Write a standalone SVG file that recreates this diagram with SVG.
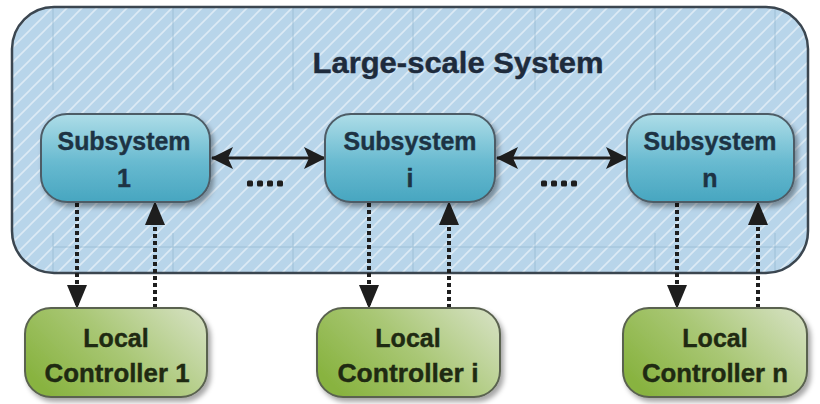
<svg xmlns="http://www.w3.org/2000/svg" width="820" height="404" viewBox="0 0 820 404">
<defs>
<pattern id="stripes" width="15" height="15" patternUnits="userSpaceOnUse">
<path d="M-3,3 L3,-3 M0,15 L15,0 M12,18 L18,12" stroke="#ffffff" stroke-opacity="0.5" stroke-width="1.6"/>
</pattern>
<linearGradient id="subGrad" x1="0" y1="0" x2="0" y2="1">
<stop offset="0" stop-color="#aedde8"/>
<stop offset="0.55" stop-color="#68bad0"/>
<stop offset="1" stop-color="#47a6c0"/>
</linearGradient>
<linearGradient id="lcGrad" x1="0" y1="0.7" x2="1" y2="0.2">
<stop offset="0" stop-color="#88b340"/>
<stop offset="0.5" stop-color="#a9c775"/>
<stop offset="1" stop-color="#d2dfbc"/>
</linearGradient>
<filter id="shadow" x="-10%" y="-10%" width="125%" height="135%">
<feDropShadow dx="3" dy="4" stdDeviation="2.5" flood-color="#000" flood-opacity="0.35"/>
</filter>
<marker id="ah" viewBox="0 0 22 22" refX="21" refY="11" markerWidth="22" markerHeight="22" markerUnits="userSpaceOnUse" orient="auto-start-reverse">
<path d="M0,0 L22,11 L0,22 L5,11 Z" fill="#1e1e1e"/>
</marker>
<marker id="vh" viewBox="0 0 24 20" refX="23" refY="10" markerWidth="24" markerHeight="20" markerUnits="userSpaceOnUse" orient="auto">
<path d="M0,0 L24,10 L0,20 Z" fill="#1e1e1e"/>
</marker>
<style>
.title{font-family:"Liberation Sans",Arial,sans-serif;font-weight:bold;font-size:29px;fill:#1e2b3c;text-anchor:middle;stroke:#1e2b3c;stroke-width:0.4}
.sub{font-family:"Liberation Sans",Arial,sans-serif;font-weight:bold;font-size:25px;fill:#1d3344;text-anchor:middle;stroke:#1d3344;stroke-width:0.4}
.lc{font-family:"Liberation Sans",Arial,sans-serif;font-weight:bold;font-size:25px;fill:#1f2a12;text-anchor:middle;stroke:#1f2a12;stroke-width:0.4}
.subbox{fill:url(#subGrad);stroke:#4d5c66;stroke-width:2;filter:url(#shadow)}
.lcbox{fill:url(#lcGrad);stroke:#5a6250;stroke-width:2;filter:url(#shadow)}
.grid{stroke:#93b6cf;stroke-width:1;stroke-opacity:0.7}
.harrow{stroke:#1e1e1e;stroke-width:3;fill:none;marker-start:url(#ah);marker-end:url(#ah)}
.varrow{stroke:#1e1e1e;stroke-width:4;stroke-dasharray:4 3;fill:none;marker-end:url(#vh)}
.dots{fill:#1e1e1e}
</style>
</defs>
<g id="large-scale-system">
<rect x="12" y="7" width="796" height="266" rx="42" ry="42" fill="#b8d5ea"/>
<rect x="12" y="7" width="796" height="266" rx="42" ry="42" fill="url(#stripes)"/>
<g class="grid">
<path d="M53,8 V90 M173,8 V90 M293,8 V90 M413,8 V90 M535,8 V90 M655,8 V90 M775,8 V90"/>
<path d="M53,233 V272 M173,233 V272 M293,233 V272 M413,233 V272 M535,233 V272 M655,233 V272 M775,233 V272"/>
<path d="M53,247 H790"/>
</g>
<rect x="12" y="7" width="796" height="266" rx="42" ry="42" fill="none" stroke="#3b4650" stroke-width="2.5"/>
<text class="title" x="458" y="73" textLength="291" lengthAdjust="spacingAndGlyphs">Large-scale System</text>
</g>
<g id="connectors">
<path class="harrow" d="M212,158 H325"/>
<path class="harrow" d="M497,158 H627"/>
<g class="dots">
<rect x="247" y="180.5" width="6" height="6" rx="1.5"/><rect x="257" y="180.5" width="6" height="6" rx="1.5"/><rect x="267" y="180.5" width="6" height="6" rx="1.5"/><rect x="277" y="180.5" width="6" height="6" rx="1.5"/>
<rect x="541" y="180.5" width="6" height="6" rx="1.5"/><rect x="551" y="180.5" width="6" height="6" rx="1.5"/><rect x="561" y="180.5" width="6" height="6" rx="1.5"/><rect x="571" y="180.5" width="6" height="6" rx="1.5"/>
</g>
<path class="varrow" d="M77,203 V308"/>
<path class="varrow" d="M155,308 V202"/>
<path class="varrow" d="M369,203 V308"/>
<path class="varrow" d="M449,308 V202"/>
<path class="varrow" d="M677,203 V308"/>
<path class="varrow" d="M758,308 V202"/>
</g>
<g id="subsystem-1">
<rect class="subbox" x="41" y="114" width="169" height="88" rx="26" ry="26"/>
<text class="sub" x="124" y="150" textLength="133" lengthAdjust="spacingAndGlyphs">Subsystem</text>
<text class="sub" x="124" y="187">1</text>
</g>
<g id="subsystem-i">
<rect class="subbox" x="325" y="114" width="170" height="88" rx="26" ry="26"/>
<text class="sub" x="410" y="150" textLength="133" lengthAdjust="spacingAndGlyphs">Subsystem</text>
<text class="sub" x="410" y="187">i</text>
</g>
<g id="subsystem-n">
<rect class="subbox" x="627" y="114" width="167" height="88" rx="26" ry="26"/>
<text class="sub" x="710" y="150" textLength="133" lengthAdjust="spacingAndGlyphs">Subsystem</text>
<text class="sub" x="710" y="187">n</text>
</g>
<g id="local-controller-1">
<rect class="lcbox" x="25" y="308" width="182" height="89" rx="26" ry="26"/>
<text class="lc" x="116" y="347">Local</text>
<text class="lc" x="117" y="382" textLength="145" lengthAdjust="spacingAndGlyphs">Controller 1</text>
</g>
<g id="local-controller-i">
<rect class="lcbox" x="317" y="308" width="183" height="89" rx="26" ry="26"/>
<text class="lc" x="408" y="347">Local</text>
<text class="lc" x="408" y="382" textLength="141" lengthAdjust="spacingAndGlyphs">Controller i</text>
</g>
<g id="local-controller-n">
<rect class="lcbox" x="623" y="308" width="184" height="89" rx="26" ry="26"/>
<text class="lc" x="715" y="347">Local</text>
<text class="lc" x="715" y="382" textLength="146" lengthAdjust="spacingAndGlyphs">Controller n</text>
</g>
</svg>
